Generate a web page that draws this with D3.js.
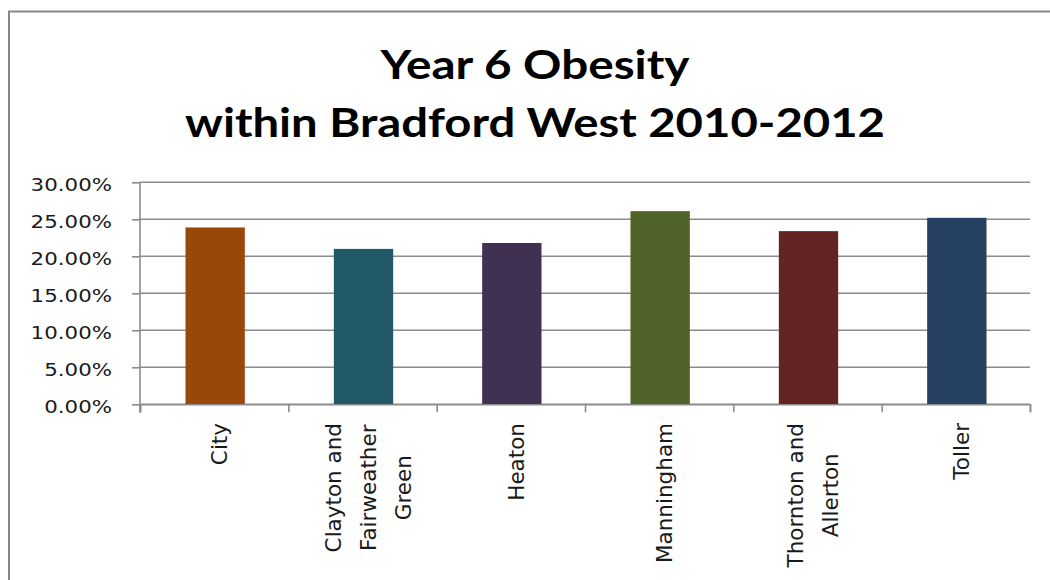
<!DOCTYPE html>
<html>
<head>
<meta charset="utf-8">
<script src="https://cdn.jsdelivr.net/npm/d3@7"></script>
<style>
  html, body { margin: 0; padding: 0; background: #fff; }
  svg { display: block; }
</style>
</head>
<body>
<svg id="chart" width="1050" height="580"></svg>
<script>
// Ward names (each inner array is one wrapped label), obesity rates (%), bar colours
const wards = ["City", "Clayton and Fairweather Green", "Heaton", "Manningham", "Thornton and Allerton", "Toller"];
const wardLines = [["City"], ["Clayton and", "Fairweather", "Green"], ["Heaton"], ["Manningham"], ["Thornton and", "Allerton"], ["Toller"]];
const obesityRate = [23.9, 21.0, 21.8, 26.1, 23.4, 25.2];
const barColors = ["#97480a", "#215968", "#403152", "#4f6228", "#632523", "#254061"];
const yTicks = [0, 5, 10, 15, 20, 25, 30];
const titleLines = ["Year 6 Obesity", "within Bradford West 2010-2012"];

const svg = d3.select("#chart");
const plot = { left: 140, right: 1030, top: 182.3, bottom: 404.3 };
const gridColor = "#8c8c8c";

// chart frame
svg.append("rect")
  .attr("x", 9).attr("y", 11.5)
  .attr("width", 1200).attr("height", 800)
  .attr("fill", "none").attr("stroke", "#878787").attr("stroke-width", 2);

// title
const titleWidths = [309, 700];
const titleBase = [78.5, 136.5];
titleLines.forEach((t, i) => {
  svg.append("text")
    .attr("x", 535).attr("y", titleBase[i])
    .attr("text-anchor", "middle")
    .attr("font-family", "Lato, 'Open Sans', sans-serif")
    .attr("font-weight", "bold")
    .attr("font-size", 41)
    .attr("fill", "#000")
    .attr("textLength", titleWidths[i])
    .attr("lengthAdjust", "spacingAndGlyphs")
    .text(t);
});

// scales
const y = d3.scaleLinear().domain([0, 30]).range([plot.bottom, plot.top]);
const x = d3.scaleBand().domain(wards).range([plot.left, plot.right])
  .paddingInner(0.6).paddingOuter(0.3);
const xEdge = d3.scaleLinear().domain([0, wards.length]).range([plot.left, plot.right]);

// horizontal gridlines
svg.append("g").selectAll("line")
  .data(yTicks)
  .join("line")
  .attr("x1", plot.left).attr("x2", plot.right)
  .attr("y1", d => y(d)).attr("y2", d => y(d))
  .attr("stroke", gridColor).attr("stroke-width", 1.6);

// bars
svg.append("g").selectAll("rect")
  .data(wards)
  .join("rect")
  .attr("x", d => x(d) + 1)
  .attr("width", x.bandwidth())
  .attr("y", (d, i) => y(obesityRate[i]))
  .attr("height", (d, i) => y(0) - y(obesityRate[i]))
  .attr("fill", (d, i) => barColors[i]);

// y axis
const yAxis = svg.append("g")
  .attr("transform", `translate(${plot.left},0)`)
  .call(d3.axisLeft(y).tickValues(yTicks).tickSize(8).tickPadding(0)
    .tickFormat(d => d3.format(".2f")(d) + "%"));
yAxis.select(".domain").remove();
yAxis.selectAll(".tick line").attr("stroke", gridColor).attr("stroke-width", 1.6);
yAxis.selectAll(".tick text")
  .attr("x", 0).attr("dy", null).attr("y", 0)
  .attr("transform", "translate(-28,7.8) scale(1.22,1)")
  .attr("font-family", "'DejaVu Sans', Verdana, sans-serif")
  .attr("font-size", 17.5)
  .attr("fill", "#1a1a1a");
svg.append("line")
  .attr("x1", plot.left).attr("x2", plot.left)
  .attr("y1", plot.top).attr("y2", plot.bottom + 8.5)
  .attr("stroke", gridColor).attr("stroke-width", 1.6);

// x axis: ticks at category boundaries
const xAxis = svg.append("g")
  .attr("transform", `translate(0,${plot.bottom})`)
  .call(d3.axisBottom(xEdge).tickValues(d3.range(wards.length + 1)).tickSize(8).tickFormat(""));
xAxis.select(".domain").attr("stroke", gridColor).attr("stroke-width", 1.6);
xAxis.selectAll(".tick line").attr("stroke", gridColor).attr("stroke-width", 1.6);

// rotated, wrapped category labels: block top-aligned, lines centred within it
const labelTop = 423;
const lineGap = 35;
wardLines.forEach((lines, i) => {
  const cx = x(wards[i]) + x.bandwidth() / 2 + 1;
  const g = svg.append("g");
  const texts = lines.map((ln, j) => g.append("text")
    .attr("text-anchor", "middle")
    .attr("font-family", "'DejaVu Sans', Verdana, sans-serif")
    .attr("font-size", 21.5)
    .attr("fill", "#1a1a1a")
    .attr("x", 0)
    .attr("y", 12 + (j - (lines.length - 1) / 2) * lineGap)
    .text(ln));
  const maxLen = d3.max(texts, t => t.node().getComputedTextLength());
  g.attr("transform", `translate(${cx},${labelTop + maxLen / 2}) rotate(-90)`);
});
</script>
</body>
</html>
